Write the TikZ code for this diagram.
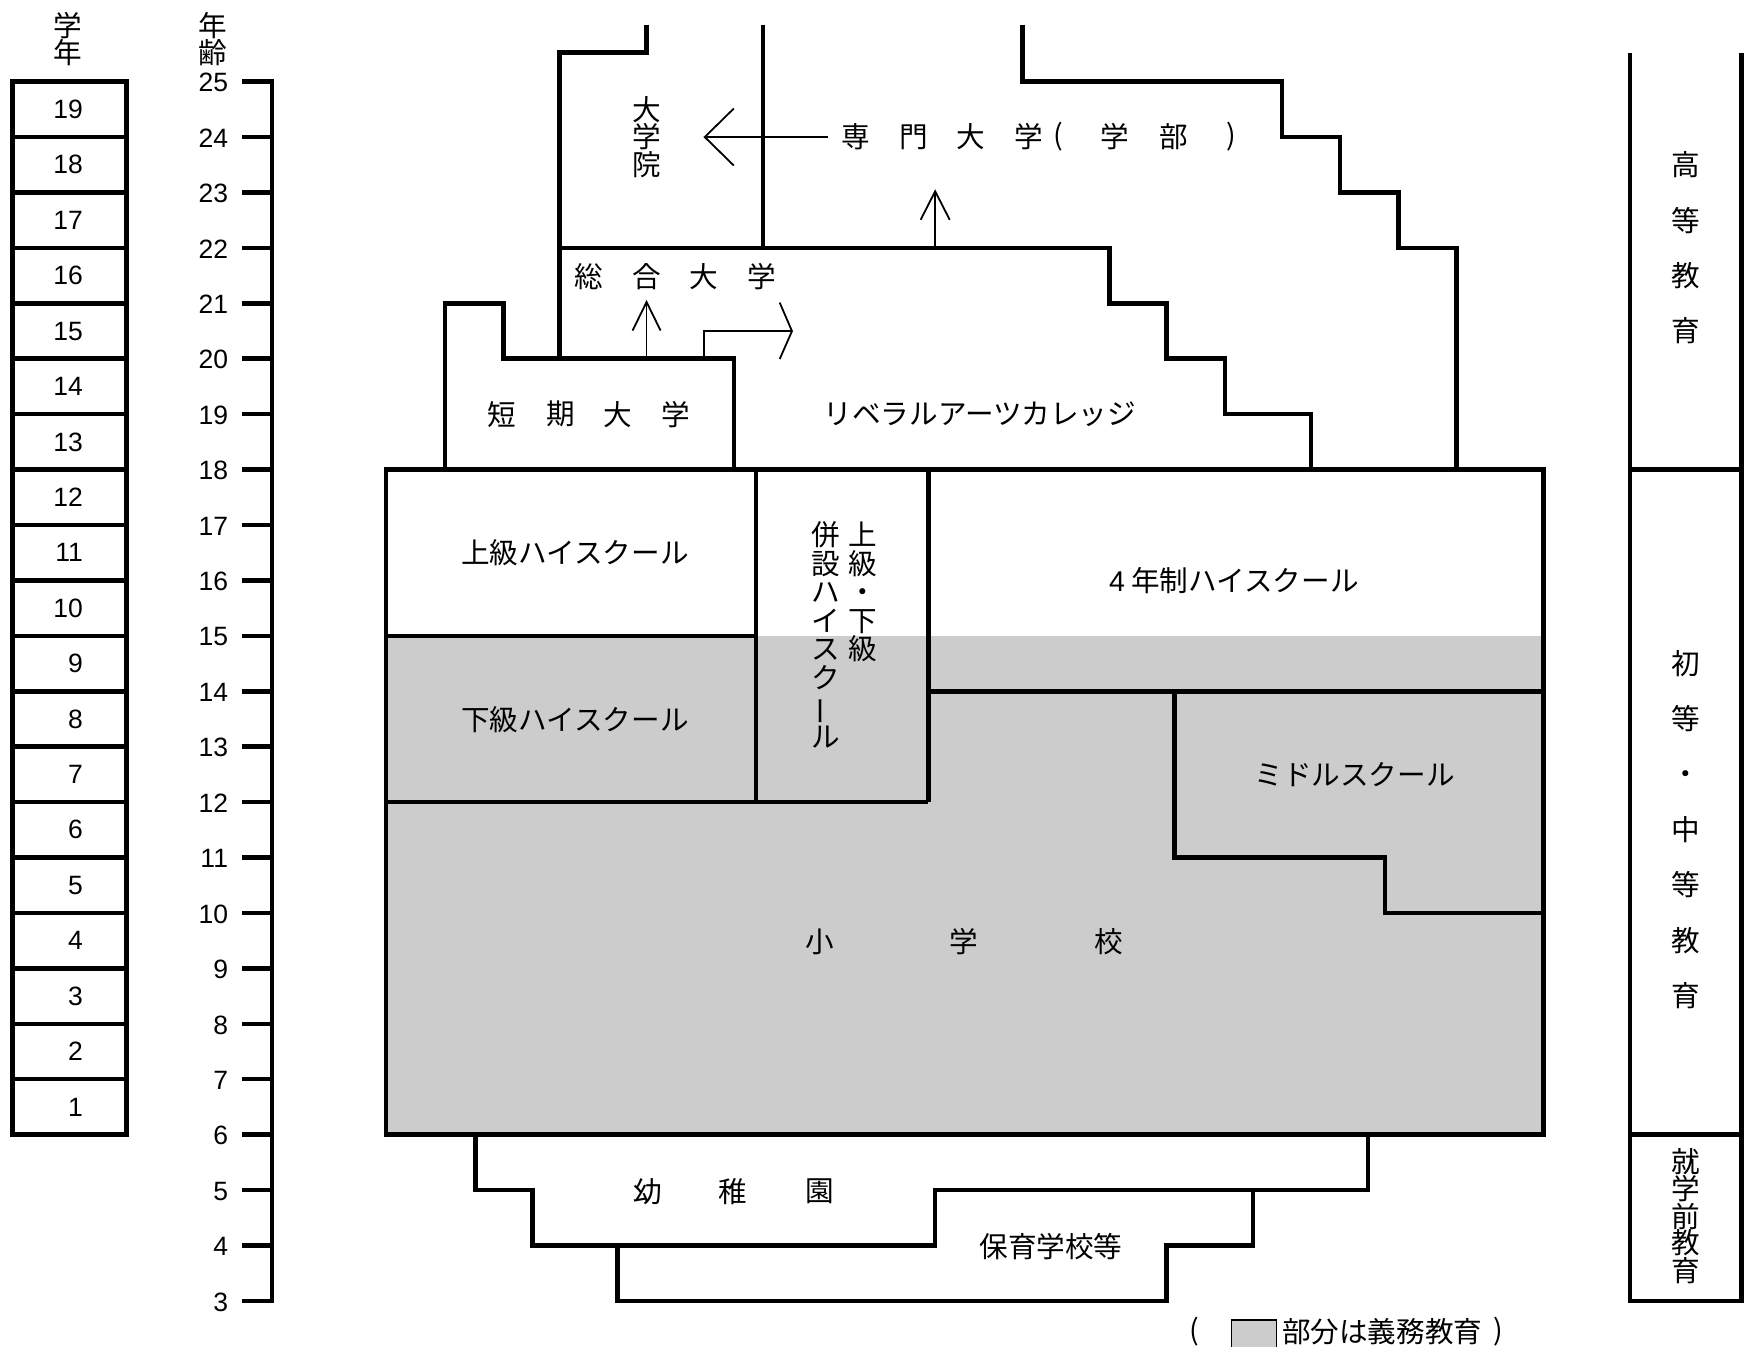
\documentclass[tikz,border=0pt]{standalone}
\usepackage{fontspec}
\setmainfont{Noto Sans CJK JP}
\newfontfamily\numfont{Liberation Sans}
\usetikzlibrary{calc}
\definecolor{dutygray}{HTML}{CCCCCC}
\begin{document}
\begin{tikzpicture}[x=1.1186pt,y=-1.1186pt,
  wall/.style={line width=4.5pt,line join=miter},
  arr/.style={line width=1.8pt,line join=miter},
  jp/.style={font=\fontsize{28.6}{28.6}\selectfont,inner sep=0pt},
  vjp/.style={font=\fontsize{28.6}{#1}\selectfont,inner sep=0pt,align=center},
  num/.style={font=\numfont\fontsize{26.5}{26.5}\selectfont,inner sep=0pt,anchor=east}]
\useasboundingbox (0,0) rectangle (1568,1204);
\fill[white] (0,0) rectangle (1568,1204);

% compulsory (gray) area
\fill[dutygray] (345,568.5) rectangle (1380,1014.4);

% grade column
\draw[wall] (11,73) rectangle (113,1014.4);
\foreach \a in {7,...,24} \draw[wall] (11,{1311.6-49.545*\a}) -- (113,{1311.6-49.545*\a});
\foreach \n in {1,...,19} \node[num] (g\n) at (74.2,{1311.6-49.545*(5.5+\n)}) {\n};
\node[vjp=27] (lgrade) at (61,35.3) {学\\年};

% age axis
\draw[wall] (216.5,73) -- (243,73) -- (243,1163) -- (216.5,1163);
\foreach \a in {4,...,24} \draw[wall] (216.5,{1311.6-49.545*\a}) -- (243,{1311.6-49.545*\a});
\foreach \a in {3,...,25} \node[num] (age\a) at (204,{1311.6-49.545*\a+1}) {\a};
\node[vjp=27] (lage) at (190.4,35.3) {年\\齢};

% higher education outlines
\draw[wall] (578,22) -- (578,47) -- (500,47) -- (500,320.7);
\draw[wall] (682,22) -- (682,221.6);
\draw[wall] (914,22) -- (914,73) -- (1146,73) -- (1146,122.5) -- (1198,122.5) -- (1198,172.1)
  -- (1250,172.1) -- (1250,221.6) -- (1302,221.6) -- (1302,419.8);
\draw[wall] (500,221.6) -- (992,221.6) -- (992,271.2) -- (1043,271.2) -- (1043,320.7)
  -- (1095,320.7) -- (1095,370.3) -- (1172,370.3) -- (1172,419.8);
\draw[wall] (398,419.8) -- (398,271.2) -- (450,271.2) -- (450,320.7) -- (656,320.7) -- (656,419.8);

% secondary / primary
\draw[wall] (345,419.8) rectangle (1380,1014.4);
\draw[wall] (345,568.5) -- (676,568.5);
\draw[wall] (676,419.8) -- (676,717.1);
\draw[wall] (830,419.8) -- (830,717.1);
\draw[wall] (345,717.1) -- (830,717.1);
\draw[wall] (830,618) -- (1380,618);
\draw[wall] (1050,618) -- (1050,766.6) -- (1238,766.6) -- (1238,816.2) -- (1380,816.2);

% pre-school
\draw[wall] (425,1014.4) -- (425,1063.9) -- (476,1063.9) -- (476,1113.5) -- (836,1113.5)
  -- (836,1063.9) -- (1223,1063.9) -- (1223,1014.4);
\draw[wall] (1120,1063.9) -- (1120,1113.5) -- (1043,1113.5) -- (1043,1163) -- (552,1163) -- (552,1113.5);

% right column
\draw[wall] (1457,47.5) -- (1457,1163) -- (1557,1163) -- (1557,47.5);
\draw[wall] (1457,419.8) -- (1557,419.8);
\draw[wall] (1457,1014.4) -- (1557,1014.4);

% texts: higher education
\node[vjp=27.4] (grad) at (578,122.5) {大\\学\\院};
\node[jp] (sm1) at (765,122.5) {専};
\node[jp] (sm2) at (817,122.5) {門};
\node[jp] (sm3) at (868,122.5) {大};
\node[jp] (sm4) at (920,122.5) {学};
\node[jp] (sm5) at (946,122.5) {(};
\node[jp] (sm6) at (997,122.5) {学};
\node[jp] (sm7) at (1049,122.5) {部};
\node[jp] (sm8) at (1101,122.5) {)};
\node[jp] (sg1) at (526,247) {総};
\node[jp] (sg2) at (578,247) {合};
\node[jp] (sg3) at (629,247) {大};
\node[jp] (sg4) at (681,247) {学};
\node[jp] (tk1) at (449,370.3) {短};
\node[jp] (tk2) at (501,370.3) {期};
\node[jp] (tk3) at (552,370.3) {大};
\node[jp] (tk4) at (604,370.3) {学};
\node[jp] (lac) at (876,370.3) {リベラルアーツカレッジ};

% arrows
\coordinate (gradtip) at (630,122.5);
\coordinate (smstart) at (740,122.5);
\draw[arr] (smstart) -- (gradtip);
\draw[arr] (gradtip) ++(26,-25.5) -- (gradtip) -- ++(26,25.5);
\coordinate (sgtop) at (836,221.6);
\coordinate (up1tip) at (836,171);
\draw[arr] (sgtop) -- (up1tip);
\draw[arr] (up1tip) ++(-13,25.5) -- (up1tip) -- ++(13,25.5);
\coordinate (tktop) at (578,320.7);
\coordinate (up2tip) at (578,270);
\draw[arr] (tktop) -- (up2tip);
\draw[arr] (up2tip) ++(-12.5,25.5) -- (up2tip) -- ++(12.5,25.5);
\coordinate (bendstart) at (629,320.7);
\coordinate (bendtip) at (708,296);
\draw[arr] (bendstart) |- (bendtip);
\draw[arr] (bendtip) ++(-11,-25.5) -- (bendtip) -- ++(-11,25);

% texts: secondary / primary
\node[jp] (uhs) at (514,494) {上級ハイスクール};
\node[jp] (lhs) at (514,643) {下級ハイスクール};
\node[vjp=28.6] (comb2) at (771,529.2) {上\\級\\・\\下\\級};
\node[vjp=28.6] (comb1) at (738,567.5) {併\\設\\ハ\\イ\\ス\\ク\\\rotatebox[origin=c]{90}{ー}\\ル};
\node[jp] (hs4) at (1103,519) {{\numfont 4} 年制ハイスクール};
\node[jp] (ms) at (1211,692.5) {ミドルスクール};
\node[jp] (es1) at (733,842) {小};
\node[jp] (es2) at (862,842) {学};
\node[jp] (es3) at (991,842) {校};
\node[jp] (kg1) at (579,1065) {幼};
\node[jp] (kg2) at (655,1065) {稚};
\node[jp] (kg3) at (733,1065) {園};
\node[jp] (nur) at (939.5,1114) {保育学校等};

% right column labels
\node[vjp=55.2] (higher) at (1507,221.5) {高\\等\\教\\育};
\node[vjp=55.4] (primsec) at (1507,741.5) {初\\等\\・\\中\\等\\教\\育};
\node[vjp=26.3] (presch) at (1507,1087) {就\\学\\前\\教\\育};

% legend
\node[jp] (lp) at (1068,1190) {(};
\draw[line width=1.5pt,fill=dutygray] (1101,1180) rectangle (1141,1215);
\node[jp,anchor=west] (ltext) at (1146,1190) {部分は義務教育};
\node[jp] (rp) at (1339,1190) {)};
\end{tikzpicture}
\end{document}
